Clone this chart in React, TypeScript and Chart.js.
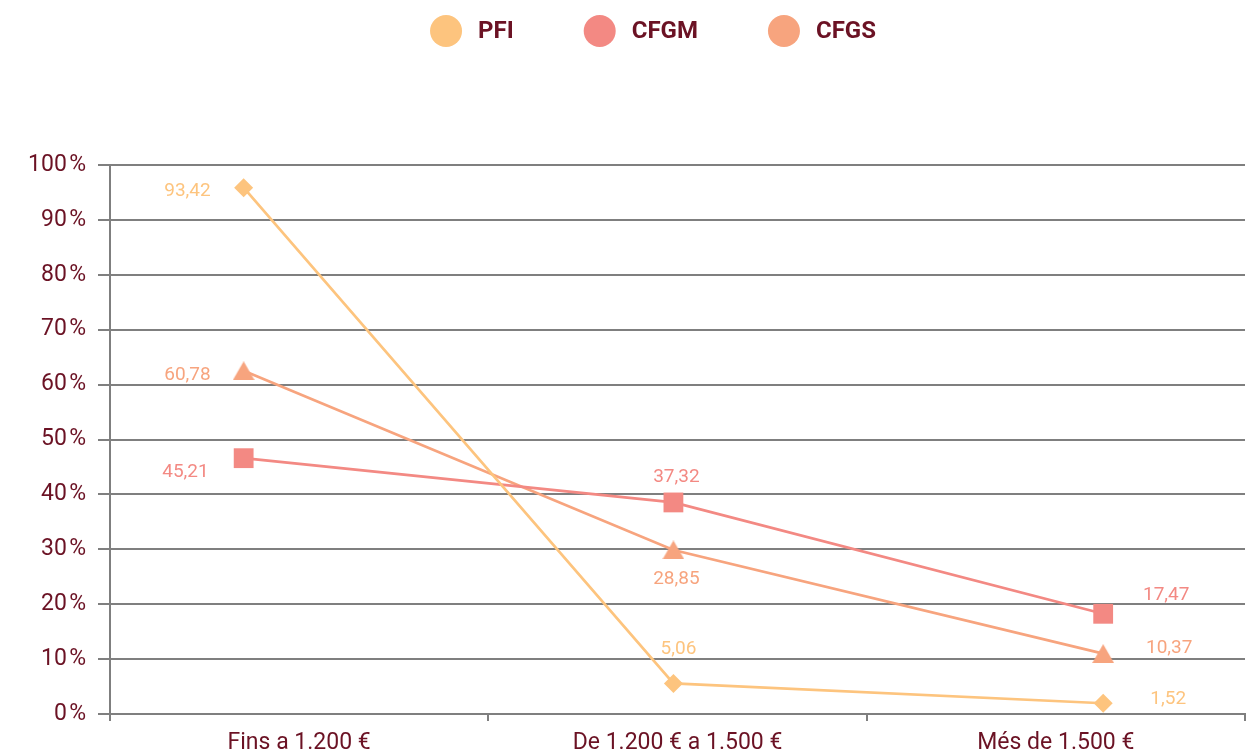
import { useEffect, useRef } from 'react';
import { Chart, registerables } from 'chart.js';

Chart.register(...registerables);

// ---- data ----
const categories = ['Fins a 1.200 €', 'De 1.200 € a 1.500 €', 'Més de 1.500 €'];
const seriesNames = ['PFI', 'CFGM', 'CFGS'];
const pfiValues = [93.42, 5.06, 1.52];
const cfgmValues = [45.21, 37.32, 17.47];
const cfgsValues = [60.78, 28.85, 10.37];
const yTickValues = [0, 10, 20, 30, 40, 50, 60, 70, 80, 90, 100];

// ---- styles ----
const MAROON = '#6b1224';
const GRID = '#7f7f7f';
const COLORS = ['#fdc47e', '#f38983', '#f7a47e'];
const FONT = 'Roboto, "Noto Sans", sans-serif';

const LABEL_OFFSETS: Array<Array<[number, number, CanvasTextAlign]>> = [
  [[-33, 4, 'right'], [5, -34, 'center'], [65, -4, 'center']],
  [[-35, 14, 'right'], [3, -25, 'center'], [63, -19, 'center']],
  [[-33, 4, 'right'], [3, 29, 'center'], [66, -5, 'center']],
];

function makeTriangle(color: string) {
  const c = document.createElement('canvas');
  c.width = 22;
  c.height = 19;
  const g = c.getContext('2d')!;
  g.fillStyle = color;
  g.beginPath();
  g.moveTo(11, 0);
  g.lineTo(22, 19);
  g.lineTo(0, 19);
  g.closePath();
  g.fill();
  return c;
}

const fmt = (v: number) => v.toFixed(2).replace('.', ',');

const zeroPad = (s: any) => {
  s.paddingLeft = 0;
  s.paddingRight = 0;
  s.paddingTop = 0;
  s.paddingBottom = 0;
};

const dataLabelPlugin = {
  id: 'dataLabels',
  afterDatasetsDraw(chart: any) {
    const ctx = chart.ctx;
    ctx.save();
    ctx.font = `19px ${FONT}`;
    ctx.textBaseline = 'middle';
    chart.data.datasets.forEach((ds: any, di: number) => {
      const meta = chart.getDatasetMeta(di);
      meta.data.forEach((pt: any, i: number) => {
        const [dx, dy, align] = LABEL_OFFSETS[di][i];
        ctx.fillStyle = ds.borderColor;
        ctx.textAlign = align;
        ctx.fillText(fmt(ds.data[i].y), pt.x + dx, pt.y + dy);
      });
    });
    ctx.restore();
  },
};

const legendPlugin = {
  id: 'customLegend',
  afterDraw(chart: any) {
    const ctx = chart.ctx;
    ctx.save();
    ctx.font = `bold 24px ${FONT}`;
    ctx.textBaseline = 'middle';
    ctx.textAlign = 'left';
    const r = 16;
    const gap = 16;
    const spacing = 70;
    const ds = chart.data.datasets;
    const widths = ds.map((d: any) => ctx.measureText(d.label).width);
    let total = 0;
    widths.forEach((w: number, i: number) => {
      total += 2 * r + gap + w + (i < widths.length - 1 ? spacing : 0);
    });
    let x = 653 - total / 2;
    const y = 31;
    ds.forEach((d: any, i: number) => {
      ctx.fillStyle = d.borderColor;
      ctx.beginPath();
      ctx.arc(x + r, y, r, 0, Math.PI * 2);
      ctx.fill();
      ctx.fillStyle = MAROON;
      ctx.fillText(d.label, x + 2 * r + gap, y + 1);
      x += 2 * r + gap + widths[i] + spacing;
    });
    ctx.restore();
  },
};

export default function App() {
  const ref = useRef<HTMLCanvasElement>(null);

  useEffect(() => {
    if (!ref.current) return;
    const series = [pfiValues, cfgmValues, cfgsValues];
    const styles: any[] = ['rectRot', 'rect', makeTriangle(COLORS[2])];
    const radii = [9.5, 14, 11];
    const chart = new Chart(ref.current, {
      type: 'line',
      data: {
        labels: categories,
        datasets: series.map((vals, si) => ({
          label: seriesNames[si],
          data: vals.map((v, i) => ({ x: i, y: v })),
          xAxisID: 'xp',
          yAxisID: 'yp',
          borderColor: COLORS[si],
          backgroundColor: COLORS[si],
          borderWidth: 2.7,
          tension: 0,
          pointStyle: styles[si],
          pointRadius: radii[si],
          pointHoverRadius: radii[si],
          pointBorderWidth: 0,
          pointBackgroundColor: COLORS[si],
          clip: false as any,
        })),
      },
      options: {
        responsive: false,
        animation: false,
        layout: { autoPadding: false, padding: { top: 165, left: 0, right: 10, bottom: 0 } },
        plugins: {
          legend: { display: false },
          tooltip: { enabled: false },
        },
        scales: {
          x: {
            type: 'category',
            position: 'bottom',
            offset: true,
            grid: {
              display: true,
              drawOnChartArea: false,
              drawTicks: true,
              tickLength: 7,
              offset: true,
              color: GRID,
              lineWidth: 2,
            },
            border: { display: true, color: GRID, width: 2 },
            ticks: {
              font: { family: FONT, size: 23 },
              color: MAROON,
              padding: 8,
              maxRotation: 0,
            },
            afterFit: (s: any) => {
              s.height = 42;
              zeroPad(s);
            },
          },
          xp: {
            type: 'linear',
            display: false,
            min: -0.311,
            max: 2.33,
            ticks: { display: false },
            afterFit: zeroPad,
          },
          y: {
            type: 'linear',
            position: 'left',
            min: 0,
            max: 100,
            afterBuildTicks: (s: any) => {
              s.ticks = yTickValues.map((v) => ({ value: v }));
            },
            grid: {
              color: GRID,
              lineWidth: 2,
              tickLength: 12,
            },
            border: { display: true, color: GRID, width: 2 },
            ticks: {
              font: { family: FONT, size: 23 },
              color: MAROON,
              padding: 12,
              callback: (v: any) => `${v}\u200A%`,
            },
            afterFit: (s: any) => {
              s.width = 110;
              s.paddingLeft = 0;
              s.paddingRight = 0;
            },
          },
          yp: {
            type: 'linear',
            display: false,
            min: -0.392,
            max: 97.47,
            ticks: { display: false },
            afterFit: zeroPad,
          },
        },
      },
      plugins: [dataLabelPlugin, legendPlugin],
    });
    return () => chart.destroy();
  }, []);

  return (
    <div style={{ position: 'fixed', left: 0, top: 0, width: 1255, height: 756, background: '#fff' }}>
      <canvas ref={ref} width={1255} height={756} style={{ display: 'block' }} />
    </div>
  );
}
